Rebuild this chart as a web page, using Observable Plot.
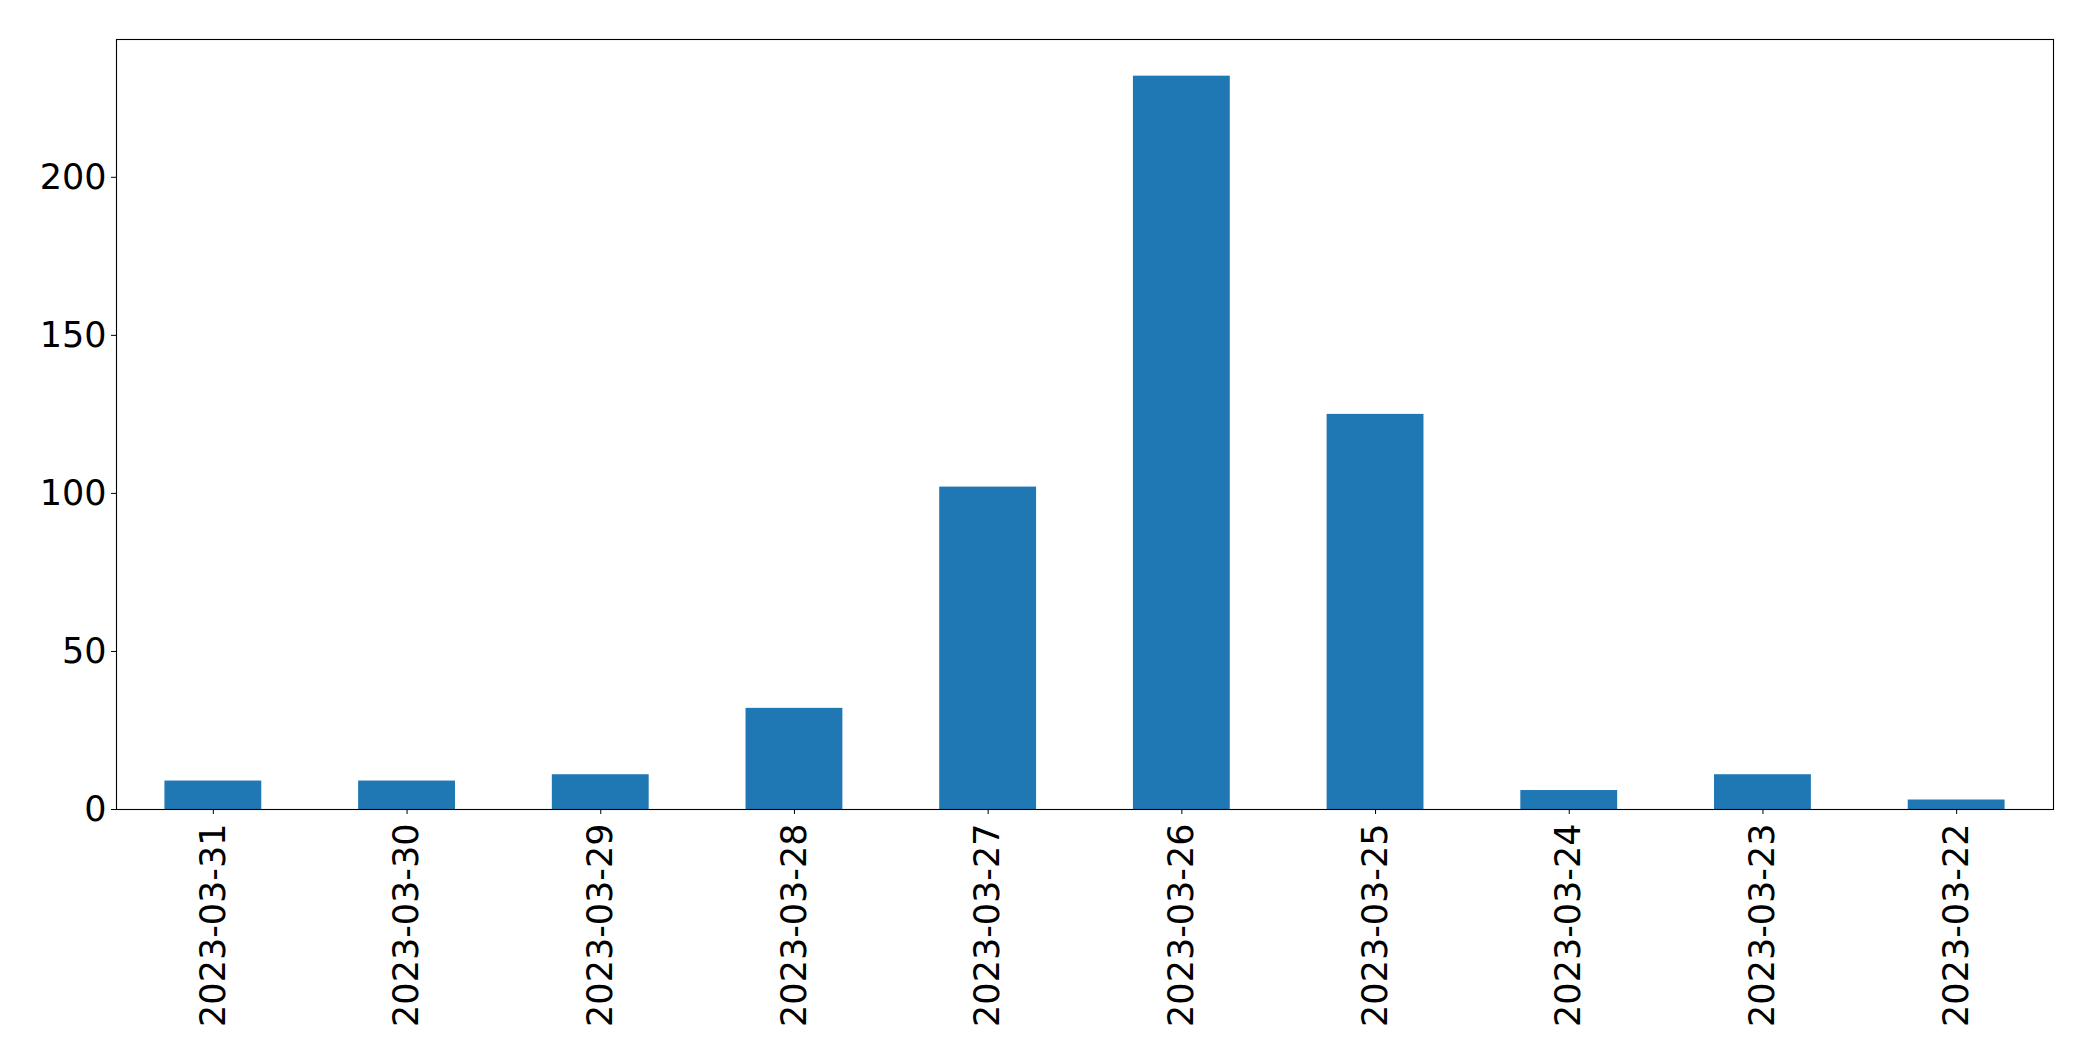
<!DOCTYPE html>
<html>
<head>
<meta charset="utf-8">
<script src="https://cdn.jsdelivr.net/npm/d3@7"></script>
<script src="https://cdn.jsdelivr.net/npm/@observablehq/plot@0.6"></script>
<style>
  html, body { margin: 0; padding: 0; background: #fff; }
  svg { display: block; }
</style>
</head>
<body>
<div id="chart"></div>
<script>
const dates = ["2023-03-31","2023-03-30","2023-03-29","2023-03-28","2023-03-27","2023-03-26","2023-03-25","2023-03-24","2023-03-23","2023-03-22"];
const counts = [9, 9, 11, 32, 102, 232, 125, 6, 11, 3];
const yTicks = [0, 50, 100, 150, 200];

const data = dates.map((d, i) => ({date: d, count: counts[i]}));
const yMax = d3.max(counts) * 1.05;

const chart = Plot.plot({
  width: 2093,
  height: 1061,
  marginLeft: 116,
  marginTop: 39,
  marginRight: 40,
  marginBottom: 252,
  style: {fontFamily: "DejaVu Sans", fontSize: "35px", color: "black", background: "white"},
  x: {domain: dates, paddingInner: 0.5, paddingOuter: 0.25, round: false, label: null},
  y: {domain: [0, yMax], label: null},
  marks: [
    Plot.barY(data, {x: "date", y: "count", fill: "#1f77b4"}),
    Plot.axisY({ticks: yTicks, tickSize: 5, tickPadding: 5, label: null, fontSize: 35}),
    Plot.axisX({tickSize: 5, tickPadding: 9, tickRotate: -90, label: null, fontSize: 35}),
    Plot.frame({stroke: "black", strokeWidth: 1.1})
  ]
});
document.getElementById("chart").appendChild(chart);
</script>
</body>
</html>
